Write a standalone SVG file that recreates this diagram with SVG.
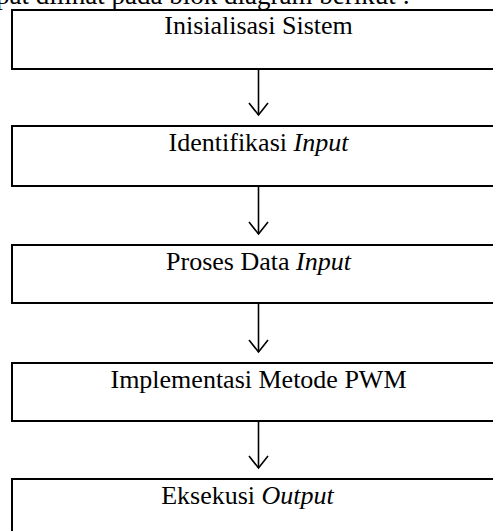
<svg xmlns="http://www.w3.org/2000/svg" width="493" height="531" viewBox="0 0 493 531">
<style>
.box{fill:#fff;stroke:#000;stroke-width:2}
.lbl{font-family:"Liberation Serif","Times New Roman",serif;font-size:26px;fill:#000;text-anchor:middle}
.it{font-style:italic}
.conn{stroke:#000;stroke-width:1.6;fill:none}
</style>
<defs>
<marker id="arr" markerUnits="userSpaceOnUse" markerWidth="30" markerHeight="30" viewBox="-15 -15 30 30" refX="0" refY="0" orient="auto" overflow="visible">
<path d="M-12,-9.5 L0,0 L-12,9.5" fill="none" stroke="#000" stroke-width="1.6"/>
</marker>
</defs>
<rect width="493" height="531" fill="#fff"/>
<text x="410" y="4" style="font-family:'Liberation Serif','Times New Roman',serif;font-size:27px;text-anchor:end">dapat dilihat pada blok diagram berikut :</text>
<g id="n1"><rect class="box" x="12" y="10" width="500" height="59"/><text class="lbl" x="258.5" y="34">Inisialisasi Sistem</text></g>
<g id="n2"><rect class="box" x="12" y="126" width="500" height="60"/><text class="lbl" x="258.5" y="151">Identifikasi <tspan class="it">Input</tspan></text></g>
<g id="n3"><rect class="box" x="12" y="245" width="500" height="58"/><text class="lbl" x="258.5" y="270">Proses Data <tspan class="it">Input</tspan></text></g>
<g id="n4"><rect class="box" x="12" y="363" width="500" height="58"/><text class="lbl" x="258.5" y="388">Implementasi Metode PWM</text></g>
<g id="n5"><rect class="box" x="12" y="479" width="500" height="70"/><text class="lbl" x="247.5" y="504">Eksekusi <tspan class="it">Output</tspan></text></g>
<g id="connectors">
<path class="conn" d="M258.5,70 V115" marker-end="url(#arr)"/>
<path class="conn" d="M258.5,187 V234" marker-end="url(#arr)"/>
<path class="conn" d="M258.5,304 V352" marker-end="url(#arr)"/>
<path class="conn" d="M258.5,422 V468" marker-end="url(#arr)"/>
</g>
</svg>
